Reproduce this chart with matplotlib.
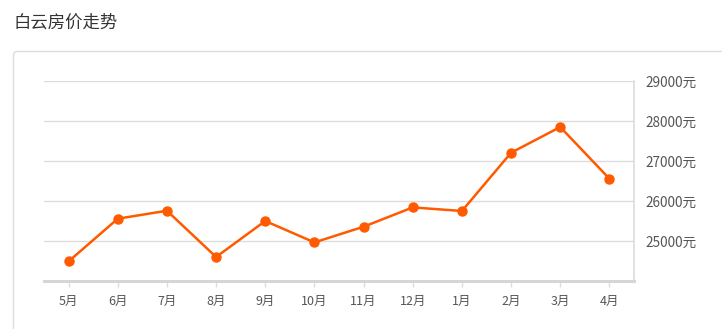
import matplotlib
matplotlib.use("Agg")
import matplotlib.pyplot as plt
from matplotlib.patches import FancyBboxPatch

plt.rcParams["font.family"] = ["Noto Sans CJK SC", "DejaVu Sans"]

# data
months = ["5月", "6月", "7月", "8月", "9月", "10月", "11月", "12月", "1月", "2月", "3月", "4月"]
prices = [24490, 25557, 25757, 24600, 25500, 24965, 25357, 25840, 25750, 27207, 27850, 26557]
y_ticks = [25000, 26000, 27000, 28000, 29000]
title = "白云房价走势"

LINE = "#ff5a00"
GRID = "#dcdcdc"
TEXT = "#555555"

W, H = 722, 329
fig = plt.figure(figsize=(W / 100, H / 100), dpi=100)

# background layer for the card frame (pixel coordinates)
bg = fig.add_axes([0, 0, 1, 1])
bg.set_xlim(0, W)
bg.set_ylim(H, 0)
bg.axis("off")
bg.add_patch(FancyBboxPatch((13.5, 51.5), 760, 320,
                            boxstyle="round,pad=0,rounding_size=4",
                            fc="white", ec="#dddddd", lw=1))
bg.text(13, 23, title, fontsize=12.5, color="#333333", va="center", ha="left")

# chart area
ax = fig.add_axes([44 / W, 1 - 281 / H, (634 - 44) / W, (281 - 81) / H])
x = list(range(len(months)))
ax.plot(x, prices, color=LINE, lw=1.8, marker="o", ms=6.5, mec=LINE, mfc=LINE, zorder=3)

ax.set_xlim(-0.5, len(months) - 0.5)
ax.set_ylim(24000, 29000)
ax.set_xticks(x)
ax.set_xticklabels(months)
ax.set_yticks(y_ticks)
ax.set_yticklabels([f"{v}元" for v in y_ticks])
ax.yaxis.tick_right()

ax.grid(axis="y", color=GRID, lw=1)
ax.set_axisbelow(True)
for side in ["top", "left"]:
    ax.spines[side].set_visible(False)
ax.spines["right"].set_color(GRID)
ax.spines["right"].set_linewidth(1.2)
ax.spines["bottom"].set_color("#d6d6d6")
ax.spines["bottom"].set_linewidth(2.2)

ax.tick_params(axis="x", length=4, width=1, color=GRID, labelsize=9,
               labelcolor=TEXT, pad=6)
ax.tick_params(axis="y", length=0, labelsize=9.8, labelcolor=TEXT, pad=8)

fig.savefig("out.png", dpi=100)
